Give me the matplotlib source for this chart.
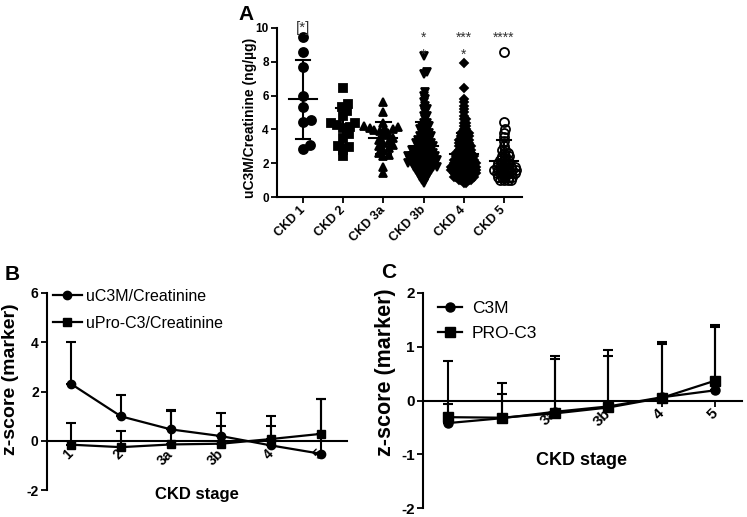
import numpy as np
import matplotlib
matplotlib.use('Agg')
import matplotlib.pyplot as plt

plt.rcParams['font.family'] = ['Liberation Sans', 'DejaVu Sans']
plt.rcParams['axes.unicode_minus'] = False

# ---- panel A: uC3M/Creatinine per CKD stage ----
groups_a = ['CKD 1', 'CKD 2', 'CKD 3a', 'CKD 3b', 'CKD 4', 'CKD 5']
ckd1 = [9.45, 8.6, 7.7, 5.95, 5.35, 4.57, 4.45, 3.08, 2.86]
ckd2 = [6.45, 5.5, 5.35, 5.1, 4.8, 4.4, 4.35, 4.25, 4.15, 4.1, 3.7, 3.5, 3.0, 2.95, 2.8, 2.4]
ckd3a = [5.6, 5.0, 4.4, 4.2, 4.15, 4.1, 4.05, 4.0, 3.95, 3.9, 3.8, 3.65, 3.5, 3.4,
         3.3, 3.2, 3.1, 3.0, 2.9, 2.8, 2.6, 2.5, 2.4, 1.8, 1.4]
# the dense columns are read as rows: level and how many points sit on it
ckd3b_levels = [0.8, 1.0, 1.2, 1.4, 1.6, 1.8, 2.0, 2.2, 2.4, 2.6, 2.8, 3.0, 3.2, 3.4, 3.6,
                3.8, 4.0, 4.2, 4.4, 4.6, 4.8, 5.0, 5.2, 5.4, 5.6, 5.8, 6.0, 6.2, 7.3, 7.4, 8.35]
ckd3b_counts = [1, 2, 3, 4, 5, 7, 8, 8, 8, 6, 6, 5, 5, 4, 4,
                3, 3, 3, 2, 1, 2, 1, 2, 1, 1, 1, 1, 1, 1, 1, 1]
ckd4_levels = [0.8, 1.0, 1.2, 1.4, 1.6, 1.8, 2.0, 2.2, 2.4, 2.6, 2.8, 3.0, 3.2, 3.4,
               3.6, 3.8, 4.0, 4.2, 4.4, 4.6, 4.8, 5.0, 5.2, 5.4, 5.6, 5.8, 6.45, 7.9]
ckd4_counts = [2, 6, 9, 10, 11, 11, 10, 9, 8, 7, 6, 6, 5, 5,
               4, 4, 2, 2, 2, 2, 1, 1, 1, 1, 1, 1, 1, 1]
ckd5_levels = [1.0, 1.2, 1.4, 1.6, 1.8, 2.0, 2.2, 2.4, 2.6, 2.8, 3.0, 3.3, 3.55, 3.8, 4.0, 4.45, 8.6]
ckd5_counts = [4, 5, 6, 7, 6, 4, 3, 3, 2, 2, 1, 1, 1, 1, 1, 1, 1]
stars_top = ['[*]', '', '', '*', '***', '****']
stars_low = ['', '', '', '*', '*', '']

# ---- panel B / C: z-scores, mean with upper SD ----
stages = ['1', '2', '3a', '3b', '4', '5']
b_c3m = [2.31, 0.99, 0.46, 0.19, -0.19, -0.53]
b_c3m_top = [4.03, 1.84, 1.26, 1.14, 0.61, 1.68]
b_pro = [-0.16, -0.26, -0.15, -0.12, 0.07, 0.28]
b_pro_top = [0.73, 0.41, 1.20, 0.61, 1.00, 1.68]
c_c3m = [-0.42, -0.33, -0.21, -0.11, 0.06, 0.19]
c_c3m_top = [0.73, 0.32, 0.83, 0.94, 1.08, 1.36]
c_pro = [-0.31, -0.32, -0.24, -0.13, 0.05, 0.37]
c_pro_top = [-0.06, 0.13, 0.78, 0.82, 1.06, 1.41]
# in C the labels of stage 1 and 2 sit under the markers
c_ticklabels = ['', '', '3a', '3b', '4', '5']

W, H = 747, 517
fig = plt.figure(figsize=(W / 100, H / 100), dpi=100)


def box(left, right, top, bottom):
    return [left / W, 1 - bottom / H, (right - left) / W, (bottom - top) / H]


def swarm_x(ax, x0, values, gap):
    # spread points sideways (in pixels) so they sit next to each other
    pts = ax.transData.transform(np.column_stack([np.full(len(values), x0), values]))
    ys = pts[:, 1]
    xs = np.zeros(len(values))
    placed = []
    for i in np.argsort(ys):
        y = ys[i]
        cands = [0.0]
        for px, py in placed:
            dy = abs(py - y)
            if dy < gap:
                dx = np.sqrt(gap ** 2 - dy ** 2)
                cands += [px + dx, px - dx]
        cands.sort(key=abs)
        for c in cands:
            if all((c - px) ** 2 + (y - py) ** 2 >= gap ** 2 - 1e-6 for px, py in placed):
                xs[i] = c
                placed.append((c, y))
                break
    back = ax.transData.inverted().transform(np.column_stack([pts[:, 0] + xs, ys]))
    return back[:, 0]


# ---------------- A ----------------
axA = fig.add_axes(box(277, 522, 28, 197))
axA.set_xlim(-0.65, 5.45)
axA.set_ylim(0, 10)
data_a = [ckd1, ckd2, ckd3a,
          np.repeat(ckd3b_levels, ckd3b_counts),
          np.repeat(ckd4_levels, ckd4_counts),
          np.repeat(ckd5_levels, ckd5_counts)]
styles = [dict(marker='o', ms=6.5, gap=8.0, mfc='black'),
          dict(marker='s', ms=6, gap=6.5, mfc='black'),
          dict(marker='^', ms=6, gap=5.5, mfc='black'),
          dict(marker='v', ms=5.5, gap=3.8, mfc='black'),
          dict(marker='D', ms=3.8, gap=2.5, mfc='black'),
          dict(marker='o', ms=6.5, gap=3.6, mfc='none')]
for i, (vals, st) in enumerate(zip(data_a, styles)):
    vals = np.asarray(vals, dtype=float)
    xs = swarm_x(axA, i, vals, st['gap'])
    axA.plot(xs, vals, linestyle='none', marker=st['marker'], ms=st['ms'],
             mfc=st['mfc'], mec='black', mew=1.3, clip_on=False, zorder=3)
    m = vals.mean()
    sd = vals.std(ddof=1)
    axA.plot([i - 0.35, i + 0.35], [m, m], color='black', lw=1.5, zorder=4)
    axA.plot([i, i], [m - sd, m + sd], color='black', lw=1.5, zorder=4)
    for yy in (m - sd, m + sd):
        axA.plot([i - 0.18, i + 0.18], [yy, yy], color='black', lw=1.5, zorder=4)
    if stars_top[i]:
        fs = 11 if i == 0 else 10
        yy = 9.75 if i == 0 else 9.2
        axA.text(i, yy, stars_top[i], ha='center', va='baseline', fontsize=fs,
                 color='#333333', clip_on=False)
    if stars_low[i]:
        axA.text(i, 8.2, stars_low[i], ha='center', va='baseline', fontsize=10,
                 color='#333333', clip_on=False)

axA.set_xticks(range(6))
axA.set_xticklabels(groups_a, rotation=45, ha='right', va='center',
                    rotation_mode='anchor', fontsize=9, fontweight='bold')
axA.set_yticks([0, 2, 4, 6, 8, 10])
axA.set_yticklabels(['0', '2', '4', '6', '8', '10'], fontsize=8.5, fontweight='bold')
axA.tick_params(axis='x', length=4, width=1.3, pad=4)
axA.tick_params(axis='y', length=4, width=1.3, pad=2)
axA.set_ylabel('uC3M/Creatinine (ng/µg)', fontsize=10, fontweight='bold')
axA.yaxis.set_label_coords(-0.08, 0.47)
for s in ['top', 'right']:
    axA.spines[s].set_visible(False)
for s in ['left', 'bottom']:
    axA.spines[s].set_linewidth(1.5)


# ---------------- B and C ----------------
def zpanel(ax, c3m, c3m_top, pro, pro_top, names, fsz, ms, ticklabels):
    x = np.arange(len(stages))
    for mean, top in ((c3m, c3m_top), (pro, pro_top)):
        mean = np.asarray(mean)
        up = np.asarray(top) - mean
        ax.errorbar(x, mean, yerr=[np.zeros_like(up), up], fmt='none', ecolor='black',
                    elinewidth=1.5, capsize=3.5, capthick=1.5, clip_on=False, zorder=3)
    ax.plot(x, c3m, '-o', color='black', lw=1.6, ms=ms, clip_on=False, zorder=5,
            label=names[0])
    ax.plot(x, pro, '-s', color='black', lw=1.6, ms=ms, clip_on=False, zorder=5,
            label=names[1])
    ax.spines['bottom'].set_position(('data', 0))
    for s in ['top', 'right']:
        ax.spines[s].set_visible(False)
    for s in ['left', 'bottom']:
        ax.spines[s].set_linewidth(1.5)
    ax.set_xticks(x)
    ax.set_xticklabels(ticklabels, rotation=45, ha='right', va='center',
                       rotation_mode='anchor', fontsize=fsz, fontweight='bold')
    ax.tick_params(axis='x', length=4, width=1.3, pad=4)
    ax.tick_params(axis='y', length=4, width=1.3, pad=2, labelsize=fsz)
    for t in ax.get_yticklabels():
        t.set_fontweight('bold')


axB = fig.add_axes(box(47, 347, 293, 490))
axB.set_xlim(-0.48, 5.52)
axB.set_ylim(-2, 6)
axB.set_yticks([-2, 0, 2, 4, 6])
zpanel(axB, b_c3m, b_c3m_top, b_pro, b_pro_top,
       ['uC3M/Creatinine', 'uPro-C3/Creatinine'], 10, 6, stages)
axB.set_ylabel('z-score (marker)', fontsize=14, fontweight='bold')
axB.yaxis.set_label_coords(-0.095, 0.56)
axB.set_xlabel('CKD stage', fontsize=12, fontweight='bold')
axB.xaxis.set_label_coords(0.5, 0.015)
axB.legend(loc='upper left', bbox_to_anchor=(0.02, 1.02), frameon=False, fontsize=11.5,
           borderaxespad=0, borderpad=0, handlelength=1.8, handletextpad=0.25,
           labelspacing=0.75)

axC = fig.add_axes(box(423, 742, 293, 508))
axC.set_xlim(-0.47, 5.5)
axC.set_ylim(-2, 2)
axC.set_yticks([-2, -1, 0, 1, 2])
zpanel(axC, c_c3m, c_c3m_top, c_pro, c_pro_top,
       ['C3M', 'PRO-C3'], 11, 6.5, c_ticklabels)
axC.set_ylabel('z-score (marker)', fontsize=15.5, fontweight='bold')
axC.yaxis.set_label_coords(-0.085, 0.63)
axC.set_xlabel('CKD stage', fontsize=13, fontweight='bold')
axC.xaxis.set_label_coords(0.498, 0.26)
axC.legend(loc='upper left', bbox_to_anchor=(0.047, 0.965), frameon=False, fontsize=12.5,
           borderaxespad=0, borderpad=0, handlelength=1.4, handletextpad=0.55,
           labelspacing=0.6)

# panel letters
fig.text(246 / W, 1 - 14 / H, 'A', fontsize=15, fontweight='bold', ha='center', va='center')
fig.text(12 / W, 1 - 274 / H, 'B', fontsize=15, fontweight='bold', ha='center', va='center')
fig.text(389 / W, 1 - 272 / H, 'C', fontsize=15, fontweight='bold', ha='center', va='center')

fig.savefig('out.png', dpi=100)
